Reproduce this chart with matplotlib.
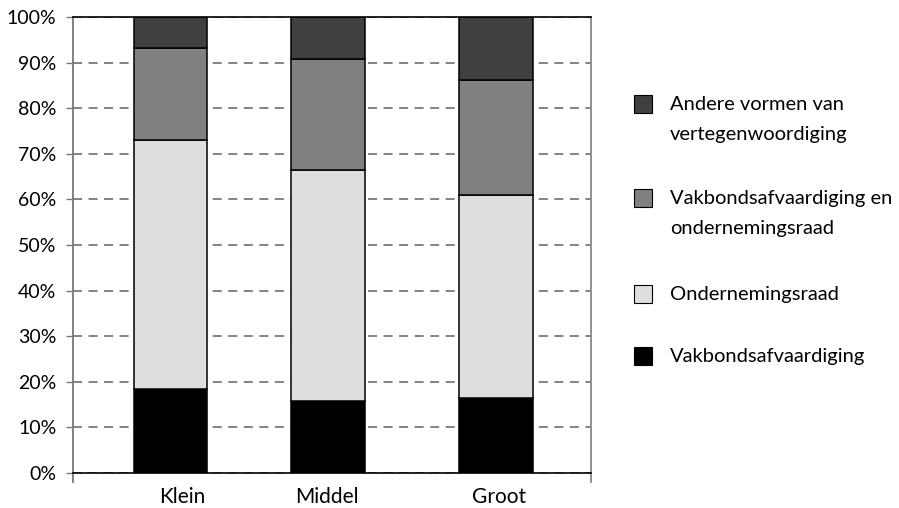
import matplotlib.pyplot as plt
from matplotlib.patches import Rectangle
from matplotlib.ticker import MultipleLocator, PercentFormatter

plt.rcParams['font.family'] = ['Lato', 'DejaVu Sans']

# Данные (проценты)
categories = ['Klein', 'Middel', 'Groot']
vakbond = [18.4, 15.8, 16.4]            # Vakbondsafvaardiging
ondernemingsraad = [54.6, 50.6, 44.6]   # Ondernemingsraad
vakbond_en_or = [20.2, 24.4, 25.2]      # Vakbondsafvaardiging en ondernemingsraad
andere = [6.8, 9.2, 13.8]               # Andere vormen van vertegenwoordiging

series = [
    (vakbond, '#000000', 'Vakbondsafvaardiging'),
    (ondernemingsraad, '#dedede', 'Ondernemingsraad'),
    (vakbond_en_or, '#808080', 'Vakbondsafvaardiging en\nondernemingsraad'),
    (andere, '#404040', 'Andere vormen van\nvertegenwoordiging'),
]

# позиции столбиков и подписей (неравномерные, как в оригинале)
bar_pos = [0.566, 1.477, 2.451]
label_pos = [0.632, 1.474, 2.466]

fig = plt.figure(figsize=(8.99, 5.08), dpi=100)
ax = fig.add_axes([0.0812, 0.0689, 0.576, 0.8976])

bottom = [0, 0, 0]
for vals, col, lab in series:
    ax.bar(bar_pos, vals, width=0.424, bottom=bottom, color=col,
           edgecolor='black', linewidth=1.1, zorder=3)
    bottom = [b + v for b, v in zip(bottom, vals)]

ax.set_xlim(0, 3)
ax.set_ylim(0, 100)
ax.yaxis.set_major_locator(MultipleLocator(10))
ax.yaxis.set_major_formatter(PercentFormatter(decimals=0))
ax.set_xticks(label_pos)
ax.set_xticklabels(categories)
ax.tick_params(axis='x', length=0, pad=10, labelsize=15)
ax.tick_params(axis='y', length=5, width=1, color='#777777', pad=7, labelsize=14)

ax.grid(axis='y', linestyle=(0, (5, 3.6)), color='#7a7a7a', linewidth=1.3, zorder=0)
ax.set_axisbelow(True)

# Рамка
for s in ax.spines.values():
    s.set_zorder(5)
ax.spines['top'].set_color('black')
ax.spines['bottom'].set_color('black')
ax.spines['top'].set_linewidth(1.2)
ax.spines['bottom'].set_linewidth(1.2)
ax.spines['left'].set_color('#777777')
ax.spines['right'].set_color('#888888')
ax.spines['left'].set_linewidth(1.3)
ax.spines['right'].set_linewidth(1.3)
ax.spines['left'].set_bounds(-2, 100)
ax.spines['right'].set_bounds(-2, 100)

# Легенда вручную: квадрат напротив первой строки
legend_y = [104, 198, 294, 356]  # центры первых строк, пиксели сверху
for (vals, col, lab), yp in zip(series[::-1], legend_y):
    yf = 1 - yp / 508
    fig.patches.append(Rectangle((634 / 899, yf - 9 / 508), 18 / 899, 18 / 508,
                                 transform=fig.transFigure, facecolor=col,
                                 edgecolor='black', linewidth=0.8))
    fig.text(670 / 899, yf + 8 / 508, lab, fontsize=14.5, va='top', ha='left',
             linespacing=1.95)

plt.savefig('out.png', dpi=100)
